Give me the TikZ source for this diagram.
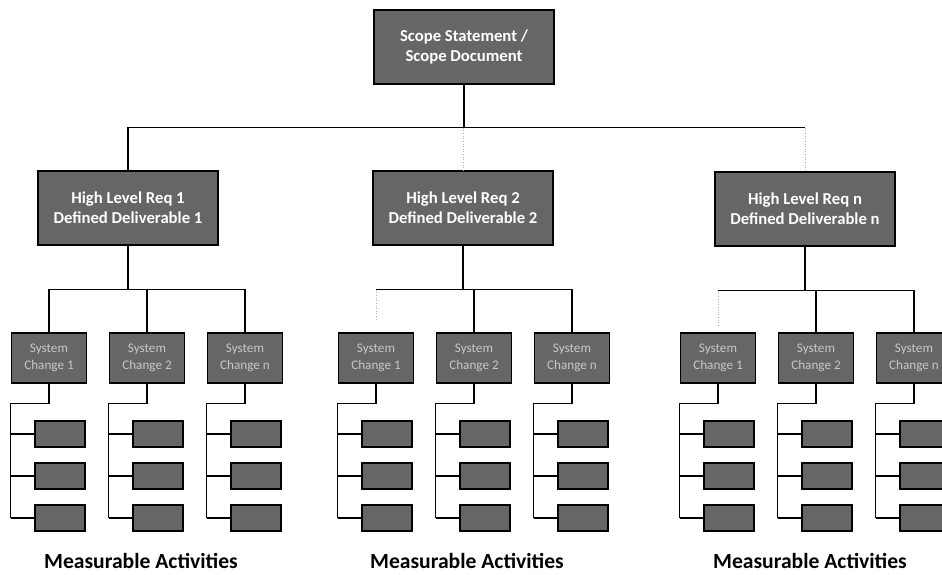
\documentclass[tikz,border=0pt]{standalone}
\usepackage{fontspec}
\setmainfont{Carlito}
\definecolor{boxgray}{HTML}{666666}
\definecolor{labelgray}{HTML}{C8C8C8}
\tikzset{
  box/.style      = {draw=black, line width=0.8pt, fill=boxgray, inner sep=0pt},
  reqnode/.style  = {box, minimum width=3.6cm, minimum height=1.48cm, text=white,
                     align=center, font=\fontsize{9.5}{11.4}\selectfont\bfseries},
  change/.style   = {box, minimum width=1.5cm, minimum height=1cm, text=labelgray,
                     align=center, font=\fontsize{7.5}{9.6}\selectfont},
  act/.style      = {box, minimum width=1cm, minimum height=0.52cm},
  link/.style     = {draw=black, line width=0.6pt},
  faint/.style    = {draw=black!30, densely dotted, line width=0.5pt},
  caption/.style  = {inner sep=1pt, font=\fontsize{12.3}{14}\selectfont\bfseries}
}
\newcommand{\changenode}[3]{
  \node[change] (#1) at (#2,358) {System\\Change #3};
  \foreach \k/\y in {1/434,2/476,3/518}
    \node[act] (#1-\k) at (#2+11,\y) {};
  \draw[link] (#1.south) -- ++(0,20) -| (#1-3.west -| #1.west);
  \foreach \k in {1,2,3}
    \draw[link] (#1-\k.west -| #1.west) -- (#1-\k.west);
}

\begin{document}
\begin{tikzpicture}[x=0.02cm, y=-0.02cm]
  \useasboundingbox (0,0) rectangle (942,574);
  \node[reqnode] (top)  at (464,47)  {Scope Statement /\\Scope Document};
  \node[reqnode] (req1) at (128,208) {High Level Req 1\\Defined Deliverable 1};
  \node[reqnode] (req2) at (463,208) {High Level Req 2\\Defined Deliverable 2};
  \node[reqnode] (req3) at (805,209) {High Level Req n\\Defined Deliverable n};
  % top level
  \draw[link] (top.south) -- ++(0,43) coordinate (hub);
  \draw[link] (req1.north) |- (hub) -- (hub -| req3.north);
  \draw[faint] (hub -| req2.north) -- (req2.north);
  \draw[faint] (hub -| req3.north) -- (req3.north);
  % system changes
  \changenode{s11}{49}{1}
  \changenode{s12}{147}{2}
  \changenode{s13}{245}{n}
  \changenode{s21}{376}{1}
  \changenode{s22}{474}{2}
  \changenode{s23}{572}{n}
  \changenode{s31}{718}{1}
  \changenode{s32}{816}{2}
  \changenode{s33}{914}{n}
  \draw[link] (req1.south) -- ++(0,44) coordinate (hub1);
  \draw[link] (s11.north) |- (hub1) -| (s13.north);
  \draw[link] (hub1 -| s12.north) -- (s12.north);
  \draw[link] (req2.south) -- ++(0,44) coordinate (hub2);
  \draw[link] (hub2 -| s21.north) -| (s23.north);
  \draw[link] (hub2 -| s22.north) -- (s22.north);
  \draw[faint, shorten >=0.22cm] (hub2 -| s21.north) -- (s21.north);
  \draw[link] (req3.south) -- ++(0,44) coordinate (hub3);
  \draw[link] (hub3 -| s31.north) -| (s33.north);
  \draw[link] (hub3 -| s32.north) -- (s32.north);
  \draw[faint, shorten >=0.14cm] (hub3 -| s31.north) -- (s31.north);
  % captions
  \node[caption] (cap1) at (141,561) {Measurable Activities};
  \node[caption] (cap2) at (467,561) {Measurable Activities};
  \node[caption] (cap3) at (810,561) {Measurable Activities};
\end{tikzpicture}
\end{document}
